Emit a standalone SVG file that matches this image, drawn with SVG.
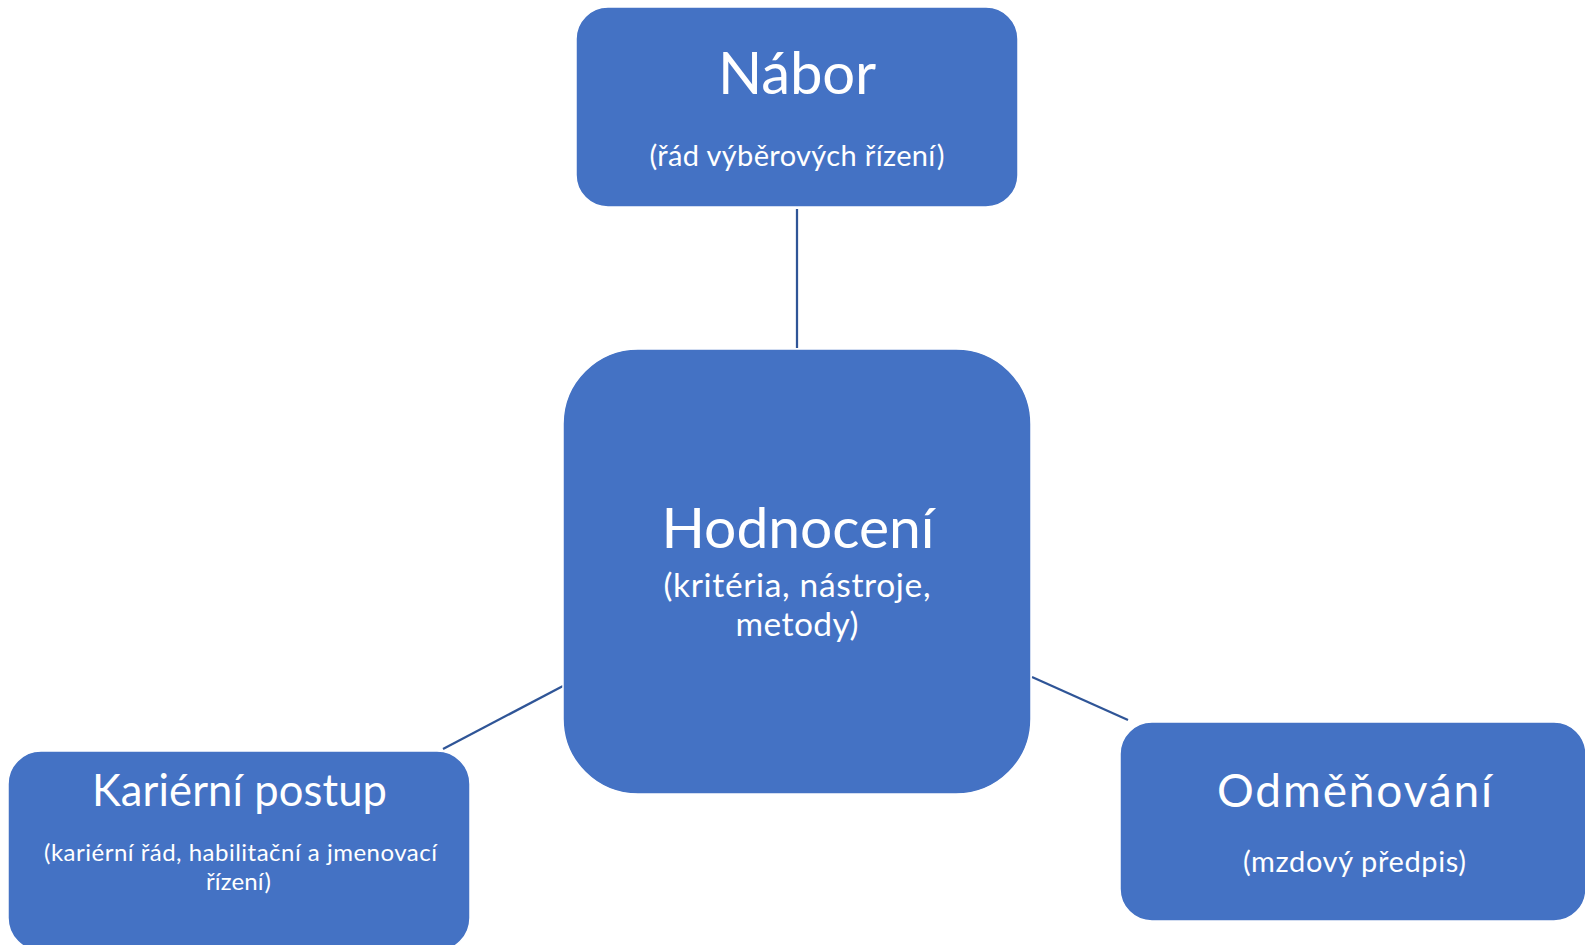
<svg xmlns="http://www.w3.org/2000/svg" width="1585" height="945" viewBox="0 0 1585 945">
  <style>
    .box { fill: #4472C4; stroke: #ffffff; stroke-width: 1.5; }
    .conn { stroke: #2F5597; stroke-width: 2.25; fill: none; }
    text { font-family: Lato, "Liberation Sans", sans-serif; fill: #ffffff; text-anchor: middle; }
  </style>
  <rect width="1585" height="945" fill="#ffffff"/>
  <g id="connectors">
    <line class="conn" x1="797" y1="209" x2="797" y2="348"/>
    <line class="conn" x1="443" y1="749" x2="563" y2="686"/>
    <line class="conn" x1="1032" y1="677" x2="1128" y2="720"/>
  </g>
  <g id="nabor">
    <rect class="box" x="576" y="7" width="442" height="200" rx="32" ry="32"/>
    <text x="797" y="94" font-size="58" textLength="158">Nábor</text>
    <text x="797" y="166" font-size="29" textLength="295">(řád výběrových řízení)</text>
  </g>
  <g id="hodnoceni">
    <rect class="box" x="563" y="349" width="468" height="445" rx="75" ry="75"/>
    <text x="798" y="548" font-size="57" textLength="273">Hodnocení</text>
    <text x="797" y="597" font-size="33.5" textLength="267">(kritéria, nástroje,</text>
    <text x="797" y="636" font-size="33.5" textLength="123">metody)</text>
  </g>
  <g id="karierni">
    <rect class="box" x="8" y="751" width="462" height="200" rx="33" ry="33"/>
    <text x="239.5" y="806" font-size="43.5" textLength="295">Kariérní postup</text>
    <text x="240.5" y="861" font-size="24" textLength="393">(kariérní řád, habilitační a jmenovací</text>
    <text x="238.5" y="890" font-size="24" textLength="65">řízení)</text>
  </g>
  <g id="odmenovani">
    <rect class="box" x="1120" y="722" width="466" height="199" rx="32" ry="32"/>
    <text x="1354.5" y="807" font-size="46" textLength="275">Odměňování</text>
    <text x="1354.5" y="872" font-size="29" textLength="223">(mzdový předpis)</text>
  </g>
</svg>
